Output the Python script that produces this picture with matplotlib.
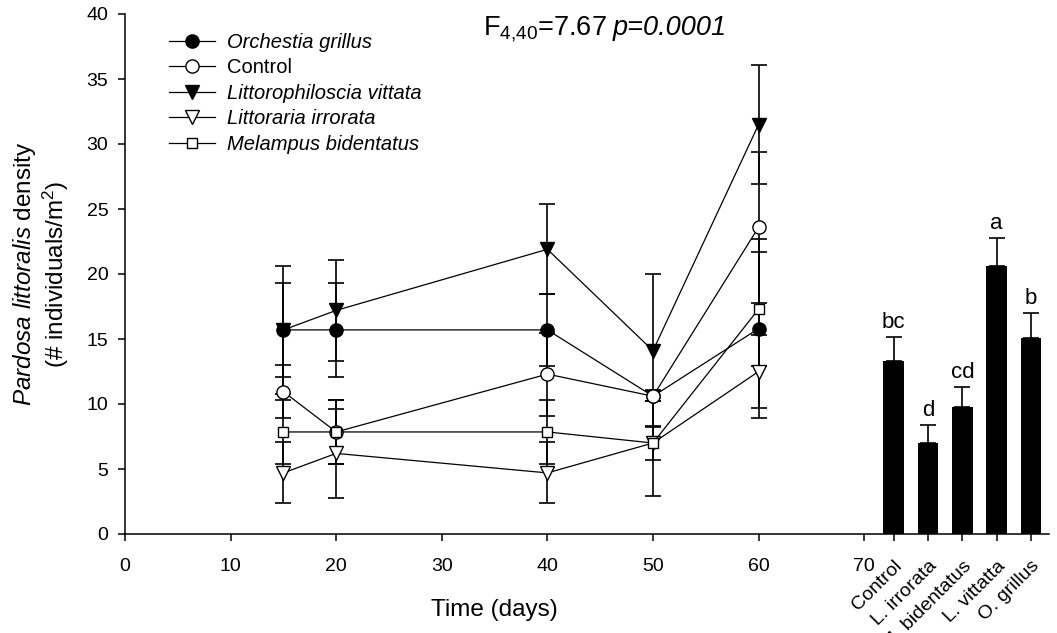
import numpy as np
import matplotlib
matplotlib.use("Agg")
import matplotlib.pyplot as plt

plt.rcParams["font.family"] = ["Liberation Sans", "DejaVu Sans"]
plt.rcParams["mathtext.fontset"] = "custom"
plt.rcParams["mathtext.rm"] = "Liberation Sans"
plt.rcParams["mathtext.it"] = "Liberation Sans:italic"

# Time series: spider density per treatment (mean +/- SE)
days = [15, 20, 40, 50, 60]

grillus = [15.7, 15.7, 15.7, 10.6, 15.8]
grillus_se = [4.9, 3.6, 2.8, 0.4, 6.9]

control = [10.95, 7.85, 12.3, 10.6, 23.6]
control_se = [2.05, 2.45, 3.2, 0.4, 5.8]

vittata = [15.7, 17.2, 21.9, 14.1, 31.5]
vittata_se = [3.6, 3.9, 3.45, 5.9, 4.6]

irrorata = [4.7, 6.2, 4.7, 7.0, 12.5]
irrorata_se = [2.35, 3.4, 2.35, 1.3, 2.8]

bidentatus = [7.85, 7.85, 7.85, 7.0, 17.3]
bidentatus_se = [2.45, 2.45, 2.45, 4.1, 4.4]

# Overall treatment means
bar_names = ["Control", "L. irrorata", "M. bidentatus", "L. vittatta", "O. grillus"]
bar_means = [13.3, 7.0, 9.8, 20.6, 15.1]
bar_se = [1.85, 1.4, 1.5, 2.2, 1.9]
bar_letters = ["bc", "d", "cd", "a", "b"]

# (label, values, se, marker, face, draw order)
series = [
    ("Orchestia grillus", grillus, grillus_se, "o", "black", 1),
    ("Control", control, control_se, "o", "white", 2),
    ("Littorophiloscia vittata", vittata, vittata_se, "v", "black", 0),
    ("Littoraria irrorata", irrorata, irrorata_se, "v", "white", 3),
    ("Melampus bidentatus", bidentatus, bidentatus_se, "s", "white", 4),
]

fig = plt.figure(figsize=(10.57, 6.33), dpi=100)
ax = fig.add_axes([125 / 1057, 99 / 633, 924 / 1057, 520 / 633])

xmax = 87.5
# error bars first, then the lines and symbols on top
for name, vals, se, mk, fc, z in series:
    ax.errorbar(days, vals, yerr=se, fmt="none", ecolor="black",
                elinewidth=1.2, capsize=6, capthick=1.2, zorder=2)
handles = []
for name, vals, se, mk, fc, z in series:
    ms = 7.5 if mk == "s" else 9.5
    (h,) = ax.plot(days, vals, color="black", lw=0.9, marker=mk, ms=ms,
                   mfc=fc, mec="black", mew=1.0, label=name, zorder=3 + 0.1 * z)
    handles.append(h)

# bars to the right of the time axis
bar_x = 72.8 + 3.25 * np.arange(len(bar_names))
ax.bar(bar_x, bar_means, width=1.95, color="black", zorder=2)
ax.errorbar(bar_x, bar_means, yerr=[np.zeros(len(bar_se)), bar_se], fmt="none",
            ecolor="black", elinewidth=1.2, capsize=6, capthick=1.2, zorder=2)
for x, m, e, lt in zip(bar_x, bar_means, bar_se, bar_letters):
    ax.text(x, m + e + 0.3, lt, ha="center", va="bottom", fontsize=16)

ax.set_xlim(0, xmax)
ax.set_ylim(0, 40)
ax.set_yticks(range(0, 41, 5))
ticks = list(range(0, 71, 10)) + list(bar_x)
ax.set_xticks(ticks)
ax.set_xticklabels([str(t) for t in range(0, 71, 10)] + bar_names)
for lab in ax.get_xticklabels()[8:]:
    lab.set_rotation(45)
    lab.set_ha("right")
    lab.set_rotation_mode("anchor")

for s in ["top", "right"]:
    ax.spines[s].set_visible(False)
for s in ["left", "bottom"]:
    ax.spines[s].set_linewidth(1.1)
ax.tick_params(direction="out", length=5, width=1.1, labelsize=14)
ax.tick_params(axis="x", pad=12)
ax.tick_params(axis="y", pad=7)

ax.set_xlabel("Time (days)", fontsize=17.5)
ax.xaxis.set_label_coords(35 / xmax, -0.125)
ax.set_ylabel(r"$\it{Pardosa\ littoralis}$ density" + "\n" + r"(# individuals/m$^2$)",
              fontsize=17.5, linespacing=1.15)
ax.yaxis.set_label_coords(-0.058, 0.5)

ax.legend(handles=handles, loc="upper left",
          bbox_to_anchor=(169 / 1057, 1 - 33 / 633), bbox_transform=fig.transFigure,
          frameon=False, handlelength=2.3, handletextpad=0.6,
          labelspacing=0.32, borderpad=0, borderaxespad=0, numpoints=1,
          prop={"style": "italic", "size": 14.5})
leg = ax.get_legend()
leg.get_texts()[1].set_fontstyle("normal")

# F statistic, with the p value set in italics right after it
y_title = 1 - 35 / 633
t1 = fig.text(483 / 1057, y_title, r"F$_{4{,}40}$=7.67", ha="left", va="baseline",
              fontsize=19.5)
fig.canvas.draw()
x_end = t1.get_window_extent().x1
fig.text((x_end + 6) / fig.bbox.width, y_title, "p=0.0001", ha="left",
         va="baseline", fontsize=19.5, fontstyle="italic")

fig.savefig("out.png", dpi=100)
